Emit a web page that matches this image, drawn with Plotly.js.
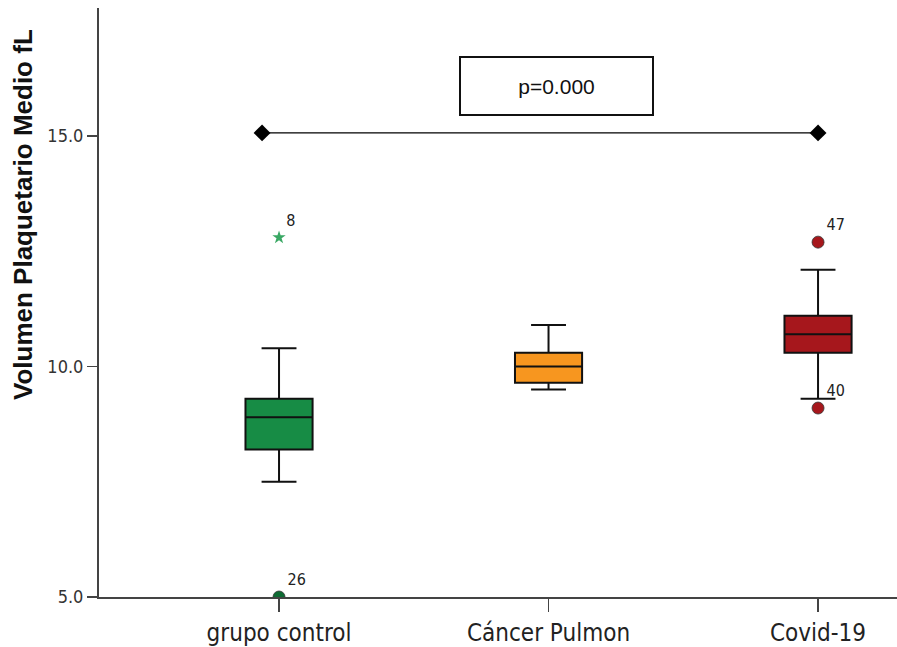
<!DOCTYPE html>
<html>
<head>
<meta charset="utf-8">
<script src="https://cdn.plot.ly/plotly-3.0.1.min.js"></script>
<style>html,body{margin:0;padding:0;background:#fff;}#chart{width:897px;height:647px;}</style>
</head>
<body>
<div id="chart"></div>
<script>
// Data
const categories = ["grupo control", "Cáncer Pulmon", "Covid-19"];
const lowerWhisker = [7.5, 9.5, 9.3];
const q1 = [8.2, 9.65, 10.3];
const medians = [8.9, 10.0, 10.7];
const q3 = [9.3, 10.3, 11.1];
const upperWhisker = [10.4, 10.9, 12.1];
const boxColors = ["#178c45", "#f7961f", "#a6171c"];

// Outliers: circles and extreme (star)
const outlierCat = ["grupo control", "Covid-19", "Covid-19"];
const outlierVal = [5.0, 12.7, 9.1];
const outlierLabel = ["26", "47", "40"];
const outlierColor = ["#0e6b33", "#a6171c", "#a6171c"];
const extremeCat = ["grupo control"];
const extremeVal = [12.8];
const extremeLabel = ["8"];

// Significance bracket (category index positions)
const bracketPos = [-0.063, 2];
const bracketVal = [15.07, 15.07];
const pText = "p=0.000";
const yTitle = "Volumen Plaquetario Medio fL";

const condensed = "DejaVu Sans Condensed, Liberation Sans Narrow, Arial Narrow, sans-serif";

const traces = [];
categories.forEach((c, i) => {
  traces.push({
    type: "box",
    x: [c],
    q1: [q1[i]], median: [medians[i]], q3: [q3[i]],
    lowerfence: [lowerWhisker[i]], upperfence: [upperWhisker[i]],
    boxpoints: false,
    width: 0.249,
    whiskerwidth: 0.52,
    fillcolor: boxColors[i],
    line: {color: "#111", width: 2},
    hoverinfo: "skip",
    showlegend: false
  });
});

traces.push({
  type: "scatter", mode: "markers+text",
  x: outlierCat, y: outlierVal, text: outlierLabel,
  textposition: "top right",
  textfont: {family: condensed, size: 16, color: "#222"},
  marker: {symbol: "circle", size: 12, color: outlierColor, line: {color: "#333", width: 0.8}},
  showlegend: false, hoverinfo: "skip"
});
traces.push({
  type: "scatter", mode: "markers+text",
  x: extremeCat, y: extremeVal, text: extremeLabel,
  textposition: "top right",
  textfont: {family: condensed, size: 16, color: "#222"},
  marker: {symbol: "star", size: 10, color: "#3aa864", line: {color: "#3aa864", width: 0}},
  showlegend: false, hoverinfo: "skip"
});
traces.push({
  type: "scatter", mode: "lines+markers",
  xaxis: "x2",
  x: bracketPos, y: bracketVal,
  line: {color: "#000", width: 1.3},
  marker: {symbol: "diamond", size: 13, color: "#000"},
  showlegend: false, hoverinfo: "skip", cliponaxis: false
});

const xRange = [-0.668, 2.293];
const layout = {
  width: 897, height: 647,
  margin: {l: 99, r: 0, t: 8, b: 50},
  paper_bgcolor: "#fff", plot_bgcolor: "#fff",
  xaxis: {
    type: "category",
    categoryorder: "array", categoryarray: categories,
    range: xRange,
    showline: true, linecolor: "#444", linewidth: 2,
    ticks: "outside", ticklen: 13, tickwidth: 1.5, tickcolor: "#444",
    showgrid: false, zeroline: false,
    ticklabelstandoff: 0,
    tickfont: {family: condensed, size: 24, color: "#222"}
  },
  xaxis2: {
    type: "linear", overlaying: "x", range: xRange,
    visible: false, showgrid: false, zeroline: false
  },
  yaxis: {
    range: [5.0, 17.78],
    tickvals: [5, 10, 15], ticktext: ["5.0", "10.0", "15.0"],
    showline: true, linecolor: "#444", linewidth: 2,
    ticks: "outside", ticklen: 10, tickwidth: 1.5, tickcolor: "#444",
    showgrid: false, zeroline: false,
    ticklabelstandoff: 0,
    tickfont: {family: condensed, size: 18, color: "#333"}
  },
  annotations: [{
    x: 1.03, y: 16.08, xref: "x", yref: "y",
    text: pText, showarrow: false,
    font: {family: "Liberation Sans, Arial, sans-serif", size: 21, color: "#111"},
    bordercolor: "#111", borderwidth: 2, bgcolor: "#fff",
    width: 189, height: 54
  }, {
    x: 0, xref: "paper", y: 0, yref: "paper",
    xanchor: "center", yanchor: "middle",
    text: "<b>" + yTitle + "</b>", showarrow: false, textangle: -90,
    font: {family: "Liberation Sans, Arial, sans-serif", size: 26, color: "#111"}
  }]
};

// convert pixel placement of the y title to paper coordinates
const pw = 897 - 99, ph = 647 - 8 - 50;
layout.annotations[1].x = (23 - 99) / pw;
layout.annotations[1].y = 1 - (215 - 8) / ph;

Plotly.newPlot("chart", traces, layout, {displayModeBar: false, staticPlot: true});
</script>
</body>
</html>
